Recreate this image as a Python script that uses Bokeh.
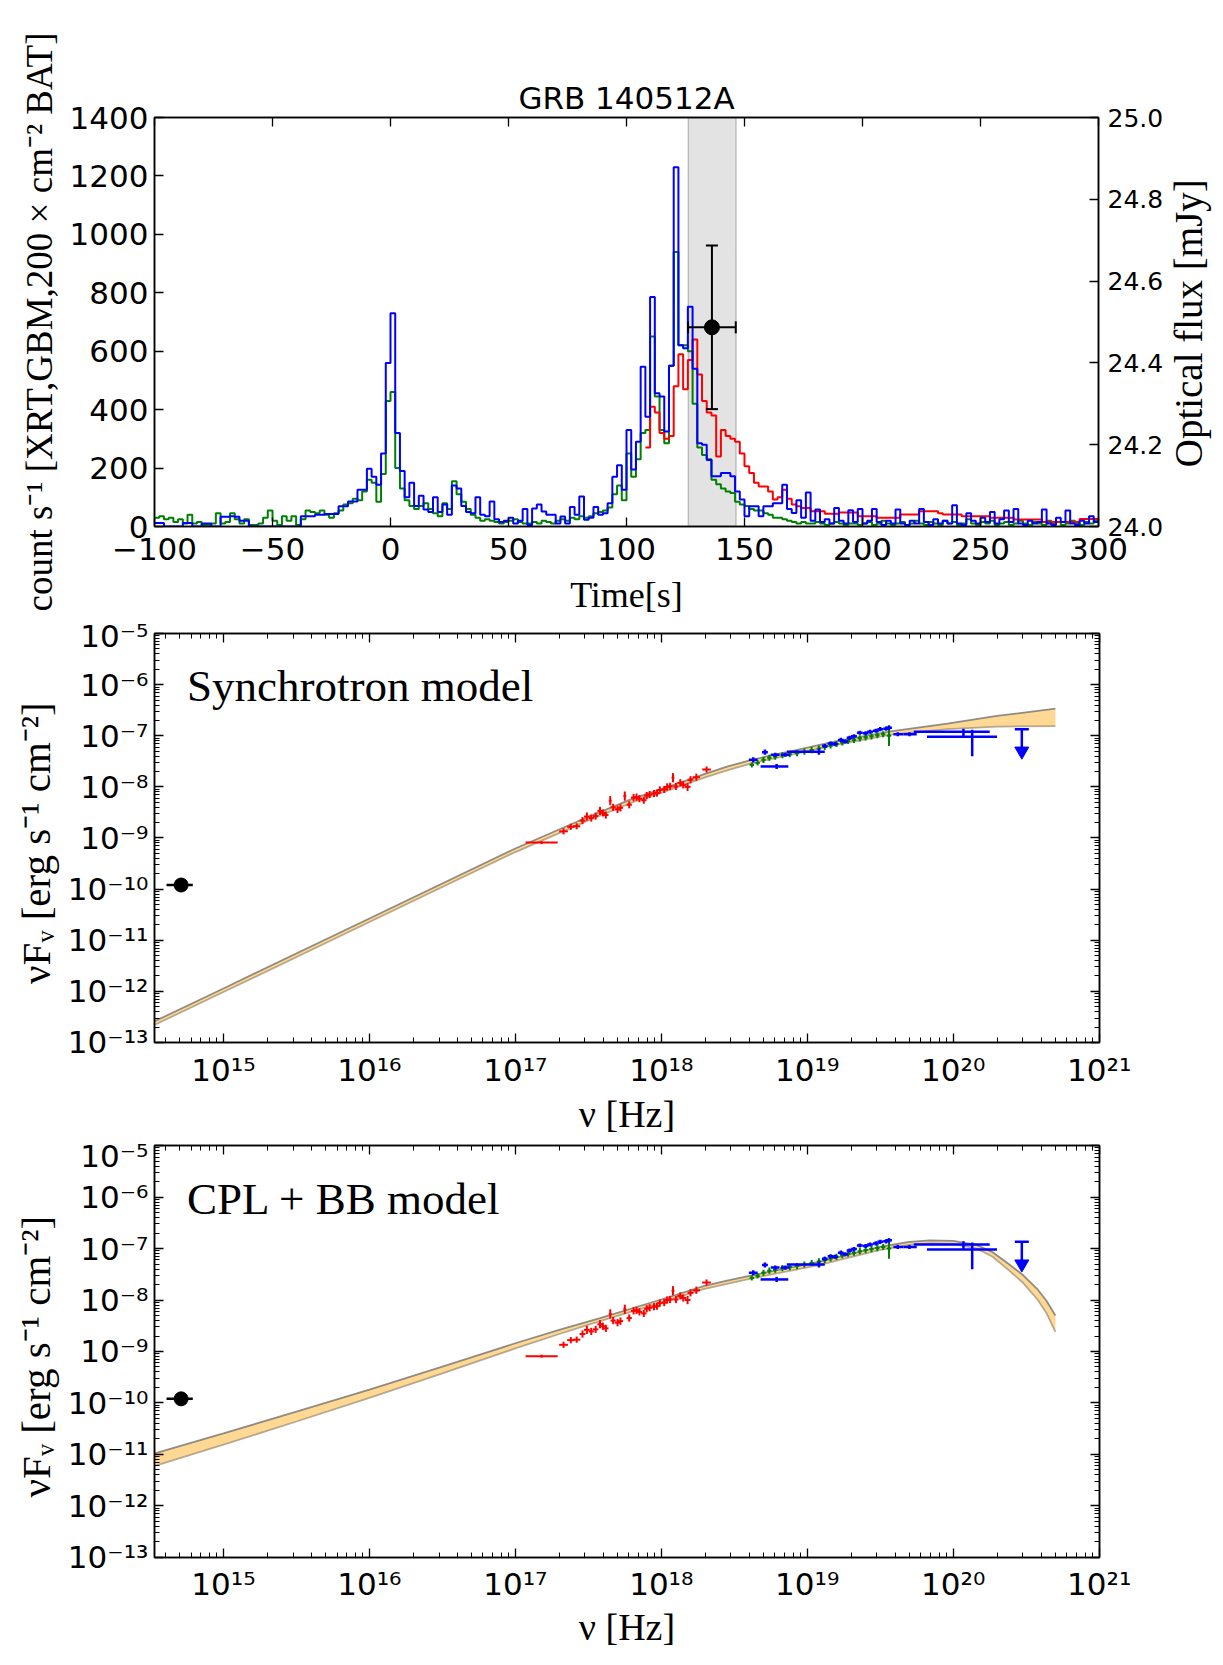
import math
import numpy as np
from bokeh.plotting import figure
from bokeh.layouts import column, row
from bokeh.models import (Range1d, LinearAxis, LogAxis, FixedTicker, LogTicker,
                          CustomJSTickFormatter, PrintfTickFormatter, Label, BoxAnnotation)
from bokeh.core.properties import value
from bokeh.embed import file_html
from bokeh.resources import INLINE

W = 1223
SANS = "DejaVu Sans"
SERIF = "Liberation Serif"

# ---------------- light curves: 2 s bins ----------------
lc_t0 = -100.0
lc_dt = 2.0
gbm_counts = [
    30, 35, 25, 30, 15, 25, 10, 40, 10, 15,
    5, 5, 10, 45, 10, 15, 45, 25, 10, 25,
    5, 5, 10, 30, 55, 20, 5, 35, 20, 35,
    5, 25, 55, 50, 45, 55, 40, 30, 45, 55,
    75, 80, 95, 90, 120, 160, 150, 85, 180, 430,
    460, 200, 130, 90, 70, 60, 70, 80, 60, 45,
    35, 80, 60, 155, 110, 85, 60, 40, 30, 20,
    25, 20, 15, 10, 15, 20, 25, 15, 10, 10,
    15, 10, 20, 15, 10, 20, 25, 20, 30, 25,
    35, 30, 35, 45, 50, 55, 65, 110, 140, 90,
    250, 170, 230, 320, 330, 650, 445, 330, 285, 550,
    940, 620, 620, 600, 420, 270, 245, 230, 160, 145,
    130, 120, 115, 85, 75, 70, 60, 55, 55, 45,
    40, 30, 30, 25, 20, 15, 10, 15, 10, 10,
    15, 10, 5, 10, 15, 10, 5, 10, 10, 5,
    10, 15, 5, 10, 20, 10, 5, 10, 15, 5,
    10, 20, 10, 5, 15, 10, 5, 20, 10, 15,
    5, 10, 25, 10, 5, 15, 10, 20, 5, 10,
    15, 5, 10, 20, 10, 5, 15, 10, 5, 20,
    10, 15, 5, 10, 20, 10, 5, 15, 10, 20,
]
bat_counts = [
    12, 12, 0, 0, 0, 0, 12, 12, 0, 0,
    10, 10, 0, 0, 33, 33, 35, 33, 20, 20,
    0, 0, 0, 0, 0, 0, 0, 0, 0, 0,
    0, 35, 35, 35, 40, 40, 43, 43, 43, 69,
    69, 86, 86, 126, 126, 198, 170, 143, 250, 560,
    730, 320, 190, 100, 150, 70, 105, 58, 50, 100,
    50, 75, 40, 140, 130, 70, 50, 45, 100, 40,
    35, 86, 25, 15, 20, 30, 10, 20, 60, 5,
    62, 75, 51, 40, 40, 10, 34, 10, 67, 40,
    103, 23, 30, 67, 40, 45, 80, 170, 210, 126,
    330, 195, 290, 547, 376, 786, 456, 445, 325, 550,
    1230, 620, 610, 752, 540, 285, 280, 228, 172, 172,
    183, 183, 172, 120, 92, 35, 69, 69, 35, 69,
    69, 80, 80, 143, 60, 46, 90, 30, 116, 20,
    58, 15, 25, 10, 63, 20, 10, 56, 15, 60,
    10, 20, 60, 15, 5, 20, 10, 58, 10, 5,
    20, 10, 60, 15, 5, 25, 10, 20, 10, 73,
    10, 5, 45, 20, 10, 30, 15, 50, 10, 25,
    55, 15, 60, 10, 5, 20, 10, 15, 58, 10,
    5, 30, 15, 55, 10, 5, 20, 10, 35, 15,
]
xrt_t0 = 108.0
xrt_counts = [
    270, 410, 390, 320, 300, 310, 480, 590, 470, 570,
    640, 520, 430, 390, 380, 240, 330, 310, 300, 290,
    250, 206, 183, 150, 137, 137, 120, 92, 100, 126,
    95, 75, 69, 63, 63, 52, 52, 52, 44, 44,
    44, 48, 48, 48, 48, 35, 35, 35, 35, 30,
    30, 30, 30, 30, 41, 41, 41, 41, 52, 52,
    52, 52, 45, 41, 41, 41, 41, 35, 35, 35,
    35, 35, 35, 30, 30, 30, 30, 30, 24, 24,
    24, 24, 24, 24, 15, 15, 15, 15, 15, 15,
    15, 15, 26, 26, 26, 26,
]
optical_time = [136.2]
optical_time_err = [10.1]
optical_flux = [24.487]
optical_flux_err = [0.2]
interval_start, interval_end = 126.2, 146.4

time_ticks = [-100, -50, 0, 50, 100, 150, 200, 250, 300]
count_ticks = [0, 200, 400, 600, 800, 1000, 1200, 1400]
flux_ticks = [24.0, 24.2, 24.4, 24.6, 24.8, 25.0]

# ---------------- SED data (log10 values) ----------------
xrt_lognu = [17.18, 17.33, 17.38, 17.42, 17.46, 17.49, 17.52, 17.55, 17.58, 17.60,
             17.62, 17.65, 17.67, 17.70, 17.72, 17.75, 17.78, 17.81, 17.83, 17.85,
             17.88, 17.90, 17.92, 17.95, 17.97, 17.99, 18.02, 18.04, 18.06, 18.08,
             18.10, 18.13, 18.15, 18.18, 18.20, 18.24, 18.31]
xrt_logF = [-9.09, -8.87, -8.78, -8.77, -8.66, -8.58, -8.61, -8.57, -8.47, -8.51,
            -8.55, -8.27, -8.40, -8.44, -8.41, -8.18, -8.35, -8.21, -8.20, -8.23,
            -8.26, -8.17, -8.15, -8.13, -8.12, -8.06, -8.05, -8.00, -7.99, -7.82,
            -7.99, -7.92, -7.96, -8.00, -7.86, -7.81, -7.66]
xrt_dlognu = [0.11, 0.03, 0.025, 0.025, 0.02, 0.02, 0.018, 0.018, 0.018, 0.018,
              0.018, 0.01, 0.018, 0.018, 0.018, 0.01, 0.018, 0.018, 0.018, 0.018,
              0.018, 0.018, 0.018, 0.018, 0.018, 0.018, 0.018, 0.018, 0.018, 0.01,
              0.018, 0.02, 0.02, 0.02, 0.02, 0.025, 0.03]
xrt_dlogF = [0.03, 0.06, 0.06, 0.06, 0.07, 0.08, 0.07, 0.07, 0.08, 0.07,
             0.07, 0.09, 0.07, 0.07, 0.07, 0.09, 0.07, 0.07, 0.07, 0.07,
             0.07, 0.07, 0.07, 0.07, 0.07, 0.07, 0.07, 0.07, 0.07, 0.09,
             0.07, 0.07, 0.07, 0.08, 0.07, 0.07, 0.06]

gbm_lognu = [18.62, 18.66, 18.70, 18.74, 18.78, 18.83, 18.88, 18.93, 18.98, 19.03,
             19.08, 19.12, 19.16, 19.20, 19.24, 19.28, 19.32, 19.36, 19.40, 19.44,
             19.48, 19.52, 19.56]
gbm_logF = [-7.57, -7.53, -7.47, -7.43, -7.41, -7.38, -7.36, -7.34, -7.31, -7.28,
            -7.25, -7.22, -7.19, -7.16, -7.13, -7.10, -7.08, -7.05, -7.03, -7.01,
            -6.99, -6.97, -7.00]
gbm_dlogF = [0.05, 0.05, 0.06, 0.06, 0.06, 0.06, 0.06, 0.06, 0.06, 0.06,
             0.06, 0.06, 0.06, 0.06, 0.06, 0.06, 0.06, 0.06, 0.06, 0.06,
             0.06, 0.06, 0.20]
gbm_dlognu = 0.015

bat_lognu = [18.63, 18.71, 18.78, 18.85, 18.79, 19.08, 19.12, 19.16, 19.19, 19.23,
             19.26, 19.29, 19.32, 19.36, 19.40, 19.43, 19.47, 19.50, 19.54, 19.56,
             19.62, 19.70, 20.07, 20.13]
bat_lognu_lo = [18.60, 18.69, 18.75, 18.82, 18.68, 18.86, 19.10, 19.14, 19.17, 19.21,
                19.24, 19.27, 19.30, 19.34, 19.38, 19.41, 19.45, 19.48, 19.52, 19.54,
                19.59, 19.66, 19.73, 19.82]
bat_lognu_hi = [18.66, 18.73, 18.81, 18.88, 18.87, 19.12, 19.14, 19.18, 19.21, 19.25,
                19.28, 19.31, 19.34, 19.38, 19.42, 19.45, 19.49, 19.52, 19.56, 19.58,
                19.66, 19.75, 20.25, 20.30]
bat_logF = [-7.47, -7.32, -7.37, -7.37, -7.60, -7.31, -7.20, -7.15, -7.16, -7.08,
            -7.11, -7.04, -7.01, -6.94, -6.95, -6.92, -6.90, -6.87, -6.86, -6.84,
            -6.97, -6.97, -6.92, -7.02]
bat_logF_lo = [-7.52, -7.37, -7.41, -7.41, -7.65, -7.37, -7.24, -7.19, -7.20, -7.12,
               -7.15, -7.08, -7.05, -6.98, -6.99, -6.96, -6.94, -6.91, -6.90, -6.88,
               -7.01, -7.01, -7.02, -7.40]
bat_logF_hi = [-7.42, -7.27, -7.33, -7.33, -7.55, -7.25, -7.16, -7.11, -7.12, -7.04,
               -7.07, -7.00, -6.97, -6.90, -6.91, -6.88, -6.86, -6.83, -6.82, -6.80,
               -6.93, -6.93, -6.86, -6.88]
ul_lognu = [20.47]
ul_logF = [-6.87]
ul_logF_arrow = [-7.30]

opt_lognu = [14.71]
opt_lognu_lo = [14.61]
opt_lognu_hi = [14.79]
opt_logF = [-9.92]

sync_lognu = [14.53, 15.0, 16.0, 17.0, 17.5, 17.8, 18.0, 18.15, 18.3, 18.45, 18.6, 18.75,
              18.9, 19.2, 19.57, 19.96, 20.30, 20.70]
sync_upper = [-12.585, -11.945, -10.575, -9.205, -8.585, -8.235, -8.045, -7.895, -7.745,
              -7.605, -7.485, -7.385, -7.295, -7.105, -6.915, -6.76, -6.61, -6.47]
sync_lower = [-12.655, -12.015, -10.645, -9.275, -8.655, -8.305, -8.115, -7.965, -7.815,
              -7.675, -7.555, -7.455, -7.365, -7.175, -6.975, -6.87, -6.82, -6.81]

cpl_lognu = [14.53, 15.0, 15.5, 16.0, 16.5, 17.0, 17.3, 17.58, 18.0, 18.29, 18.45, 18.62,
             19.08, 19.49, 19.70, 19.84, 20.0, 20.16, 20.27, 20.38, 20.48, 20.58, 20.64,
             20.70]
cpl_upper = [-10.98, -10.59, -10.17, -9.74, -9.295, -8.84, -8.58, -8.35, -7.99, -7.73,
             -7.625, -7.52, -7.26, -6.97, -6.87, -6.84, -6.85, -6.93, -7.07, -7.30,
             -7.52, -7.80, -8.02, -8.30]
cpl_lower = [-11.22, -10.81, -10.36, -9.90, -9.425, -8.94, -8.66, -8.41, -8.05, -7.79,
             -7.685, -7.58, -7.32, -7.03, -6.93, -6.90, -6.91, -7.00, -7.16, -7.42,
             -7.67, -8.00, -8.26, -8.62]


def P(a):
    return [10.0 ** v for v in a]


def style_axis(ax, size):
    ax.axis_line_color = "black"
    ax.axis_line_width = 1.5
    ax.major_tick_in = 9
    ax.major_tick_out = 0
    ax.minor_tick_in = 5
    ax.minor_tick_out = 0
    ax.major_tick_line_color = "black"
    ax.minor_tick_line_color = "black"
    ax.major_tick_line_width = 1.3
    ax.minor_tick_line_width = 1.0
    ax.major_label_text_font = SANS
    ax.major_label_text_font_size = size
    ax.major_label_text_color = "black"
    ax.axis_label_text_font = SERIF
    ax.axis_label_text_font_style = "normal"
    ax.axis_label_text_color = "black"


def hide_labels(ax):
    ax.major_label_text_color = None
    ax.major_label_text_font_size = "1px"
    ax.major_label_standoff = 0


minus_fmt = CustomJSTickFormatter(code="""
    return tick < 0 ? '\\u2212' + String(Math.abs(tick)) : String(tick);
""")
log_fmt = CustomJSTickFormatter(code="""
    const e = Math.round(Math.log10(tick));
    const sup = {'-': '\\u207B', '0': '\\u2070', '1': '\\u00B9', '2': '\\u00B2', '3': '\\u00B3',
                 '4': '\\u2074', '5': '\\u2075', '6': '\\u2076', '7': '\\u2077', '8': '\\u2078', '9': '\\u2079'};
    return '10' + String(e).split('').map(c => sup[c]).join('');
""")

# ---------------- Panel 1: light curves ----------------
H1 = 617
RW = 57                      # narrow strip on the right that carries the optical-flux title
W1 = W - RW
p1 = figure(width=W1, height=H1, x_range=Range1d(-100, 300), y_range=Range1d(0, 1400),
            output_backend="svg", toolbar_location=None,
            min_border_left=154, min_border_right=W1 - 1099, min_border_top=117,
            min_border_bottom=H1 - 117 - 410)
p1.extra_y_ranges = {"opt": Range1d(24.0, 25.0)}
p1.grid.visible = False
p1.outline_line_color = "black"
p1.outline_line_width = 1.5
p1.background_fill_color = "white"
p1.border_fill_color = "white"

p1.title.text = "GRB 140512A"
p1.title.align = "center"
p1.title.text_font = SANS
p1.title.text_font_size = "31px"
p1.title.text_font_style = "normal"
p1.title.text_color = "black"
p1.title.standoff = 3

p1.add_layout(BoxAnnotation(left=interval_start, right=interval_end, fill_color="#808080",
                            fill_alpha=0.22, line_color="#808080", line_alpha=0.45,
                            line_width=1.5, level="underlay"))


def step_curve(t0, dt, vals):
    t = [t0 + dt * i for i in range(len(vals) + 1)]
    y = list(vals) + [vals[-1]]
    return t, y


tg, yg = step_curve(lc_t0, lc_dt, gbm_counts)
p1.step(tg, yg, mode="after", line_color="green", line_width=2)
tr, yr = step_curve(xrt_t0, lc_dt, xrt_counts)
p1.step(tr, yr, mode="after", line_color="red", line_width=2)
tb, yb = step_curve(lc_t0, lc_dt, bat_counts)
p1.step(tb, yb, mode="after", line_color="blue", line_width=2)

ot = optical_time[0]
of = optical_flux[0]
p1.segment(x0=[ot - optical_time_err[0]], y0=[of], x1=[ot + optical_time_err[0]], y1=[of],
           y_range_name="opt", line_color="black", line_width=2)
p1.segment(x0=[ot], y0=[of - optical_flux_err[0]], x1=[ot], y1=[of + optical_flux_err[0]],
           y_range_name="opt", line_color="black", line_width=2)
p1.scatter(x=[ot, ot], y=[of - optical_flux_err[0], of + optical_flux_err[0]], marker="dash",
           size=12, line_color="black", line_width=2, y_range_name="opt")
p1.scatter(x=[ot - optical_time_err[0], ot + optical_time_err[0]], y=[of, of], marker="dash",
           angle=math.pi / 2, size=12, line_color="black", line_width=2, y_range_name="opt")
p1.scatter(x=optical_time, y=optical_flux, marker="circle", size=15, fill_color="black",
           line_color="black", y_range_name="opt")

xa = p1.xaxis[0]
xa.ticker = FixedTicker(ticks=time_ticks)
xa.formatter = minus_fmt
style_axis(xa, "31px")
xa.major_label_standoff = 11
xa.axis_label = "Time[s]"
xa.axis_label_text_font_size = "36px"
xa.axis_label_standoff = 12

ya = p1.yaxis[0]
ya.ticker = FixedTicker(ticks=count_ticks)
style_axis(ya, "31px")
ya.major_label_standoff = 6
ya.axis_label = "count s\u207B\u00B9 [XRT,GBM,200 \u00D7 cm\u207B\u00B2 BAT]"
ya.axis_label_text_font_size = "37px"
ya.axis_label_standoff = 7

top1 = LinearAxis(ticker=FixedTicker(ticks=time_ticks))
style_axis(top1, "1px")
hide_labels(top1)
p1.add_layout(top1, "above")

right1 = LinearAxis(y_range_name="opt", ticker=FixedTicker(ticks=flux_ticks),
                    formatter=PrintfTickFormatter(format="%.1f"))
style_axis(right1, "25px")
right1.major_label_standoff = 9
p1.add_layout(right1, "right")

# strip with the right-hand axis title, reading bottom to top
pr = figure(width=RW, height=H1, x_range=Range1d(0, 1), y_range=Range1d(0, 1),
            output_backend="svg", toolbar_location=None, title=None,
            x_axis_location=None, y_axis_location=None, min_border=0)
pr.grid.visible = False
pr.outline_line_color = None
pr.border_fill_color = "white"
pr.text(x=[0.39], y=[0.497], text=["Optical flux [mJy]"], angle=math.pi / 2,
        text_font=value(SERIF), text_font_size="39px", text_align="center",
        text_baseline="middle", text_color="black")


# ---------------- SED panels ----------------
def sed_panel(height, btop, bbottom, title_text, m_nu, m_up, m_lo, tick_standoff, lab_standoff):
    p = figure(width=W, height=height, x_axis_type="log", y_axis_type="log",
               x_range=Range1d(3.37e14, 1.005e21), y_range=Range1d(0.995e-13, 1.005e-5),
               output_backend="svg", toolbar_location=None,
               min_border_left=154, min_border_right=124, min_border_top=btop,
               min_border_bottom=bbottom)
    p.grid.visible = False
    p.outline_line_color = "black"
    p.outline_line_width = 1.5
    p.border_fill_color = "white"

    bx = p.xaxis[0]
    bx.ticker = LogTicker(num_minor_ticks=10)
    bx.formatter = log_fmt
    style_axis(bx, "31px")
    bx.major_label_standoff = tick_standoff
    bx.axis_label = "\u03BD [Hz]"
    bx.axis_label_text_font_size = "38px"
    bx.axis_label_standoff = lab_standoff

    ly = p.yaxis[0]
    ly.ticker = LogTicker(num_minor_ticks=10)
    ly.formatter = log_fmt
    style_axis(ly, "31px")
    ly.major_label_standoff = 6
    ly.axis_label = "\u03BDF\u1D65 [erg s\u207B\u00B9  cm\u207B\u00B2]"
    ly.axis_label_text_font_size = "41px"
    ly.axis_label_standoff = 6

    ta = LogAxis(ticker=LogTicker(num_minor_ticks=10))
    style_axis(ta, "1px")
    hide_labels(ta)
    p.add_layout(ta, "above")
    ra = LogAxis(ticker=LogTicker(num_minor_ticks=10))
    style_axis(ra, "1px")
    hide_labels(ra)
    p.add_layout(ra, "right")

    # model band
    p.varea(x=P(m_nu), y1=P(m_lo), y2=P(m_up), fill_color="#FFA500", fill_alpha=0.42)
    p.line(P(m_nu), P(m_up), line_color="#6b6b6b", line_alpha=0.75, line_width=1.8)
    p.line(P(m_nu), P(m_lo), line_color="#9a8a70", line_alpha=0.7, line_width=1.8)

    # XRT (red)
    nu = np.array(xrt_lognu); f = np.array(xrt_logF)
    dn = np.array(xrt_dlognu); df = np.array(xrt_dlogF)
    p.segment(x0=P(nu - dn), y0=P(f), x1=P(nu + dn), y1=P(f), line_color="red", line_width=2)
    p.segment(x0=P(nu), y0=P(f - df), x1=P(nu), y1=P(f + df), line_color="red", line_width=2)

    # GBM (green)
    nu = np.array(gbm_lognu); f = np.array(gbm_logF); df = np.array(gbm_dlogF)
    p.segment(x0=P(nu - gbm_dlognu), y0=P(f), x1=P(nu + gbm_dlognu), y1=P(f),
              line_color="green", line_width=2)
    p.segment(x0=P(nu), y0=P(f - df), x1=P(nu), y1=P(f + df), line_color="green", line_width=2)

    # BAT / wide bins (blue)
    p.segment(x0=P(bat_lognu_lo), y0=P(bat_logF), x1=P(bat_lognu_hi), y1=P(bat_logF),
              line_color="blue", line_width=2.5)
    p.segment(x0=P(bat_lognu), y0=P(bat_logF_lo), x1=P(bat_lognu), y1=P(bat_logF_hi),
              line_color="blue", line_width=2.5)

    # upper limit
    p.segment(x0=P(ul_lognu), y0=P(ul_logF), x1=P(ul_lognu), y1=P(ul_logF_arrow),
              line_color="blue", line_width=2.5)
    p.scatter(x=P(ul_lognu), y=P(ul_logF), marker="dash", size=14, line_color="blue",
              line_width=2.5)
    p.scatter(x=P(ul_lognu), y=P(ul_logF_arrow), marker="inverted_triangle", size=14,
              fill_color="blue", line_color="blue")

    # optical point
    p.segment(x0=P(opt_lognu_lo), y0=P(opt_logF), x1=P(opt_lognu_hi), y1=P(opt_logF),
              line_color="black", line_width=2.5)
    p.scatter(x=P(opt_lognu), y=P(opt_logF), marker="circle", size=14,
              fill_color="black", line_color="black")

    p.add_layout(Label(x=10 ** 14.75, y=10 ** -6.03, text=title_text, text_font=SERIF,
                       text_font_size="45px", text_baseline="middle", text_align="left",
                       text_color="black"))
    return p


H2 = 520
H3 = 1665 - H1 - H2
top2 = 633 - H1
p2 = sed_panel(H2, top2, H2 - top2 - 411, "Synchrotron model",
               sync_lognu, sync_upper, sync_lower, 9, 2)
top3 = 1145 - (H1 + H2)
p3 = sed_panel(H3, top3, H3 - top3 - 412, "CPL + BB model",
               cpl_lognu, cpl_upper, cpl_lower, 8, 1)

layout = column(row(p1, pr), p2, p3)
html = file_html(layout, INLINE, title="GRB 140512A")
with open("out.html", "w", encoding="utf-8") as fh:
    fh.write(html)
